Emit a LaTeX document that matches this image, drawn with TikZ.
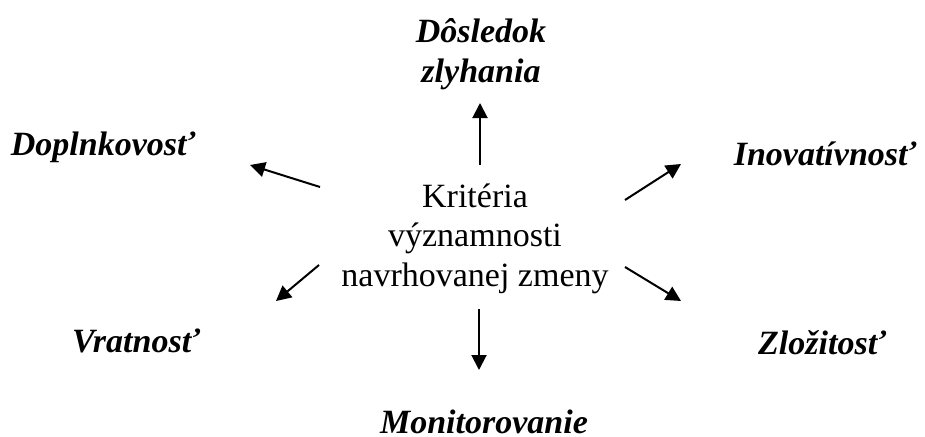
\documentclass[tikz,border=0pt]{standalone}
\usepackage{fontspec}
\setmainfont{Liberation Serif}
\usetikzlibrary{arrows.meta}
\begin{document}
\begin{tikzpicture}[x=1pt,y=-1pt,
  crit/.style={font=\fontsize{34}{39}\selectfont\bfseries\itshape, inner sep=0pt, anchor=base, align=center},
  core/.style={font=\fontsize{34}{39.5}\selectfont, inner sep=0pt, anchor=base, align=center},
  ray/.style={line width=2pt, -{Triangle[length=15pt,width=15pt]}}]
\useasboundingbox (0,0) rectangle (925,436);

% central notion
\node[core] (c1) at (475,207) {Kritéria};
\node[core] (c2) at (475,246) {významnosti};
\node[core] (c3) at (475,286) {navrhovanej zmeny};

% criteria around it
\node[crit] (d1) at (481,43) {Dôsledok};
\node[crit] (d2) at (481,82) {zlyhania};
\node[crit] (dop) at (103,155) {Doplnkovosť};
\node[crit] (ino) at (825,165) {Inovatívnosť};
\node[crit] (vra) at (136,352) {Vratnosť};
\node[crit] (zlo) at (822,354) {Zložitosť};
\node[crit] (mon) at (484,433) {Monitorovanie};

% arrow ends
\coordinate (uT) at (480,165); \coordinate (uH) at (480,103);
\coordinate (ulT) at (320,187); \coordinate (ulH) at (250,165);
\coordinate (urT) at (625,200); \coordinate (urH) at (681,164);
\coordinate (llT) at (319,265); \coordinate (llH) at (276,301);
\coordinate (lrT) at (625,267); \coordinate (lrH) at (681,301);
\coordinate (dT) at (479,309); \coordinate (dH) at (479,370);

\draw[ray] (uT) -- (uH);
\draw[ray] (ulT) -- (ulH);
\draw[ray] (urT) -- (urH);
\draw[ray] (llT) -- (llH);
\draw[ray] (lrT) -- (lrH);
\draw[ray] (dT) -- (dH);
\end{tikzpicture}
\end{document}
